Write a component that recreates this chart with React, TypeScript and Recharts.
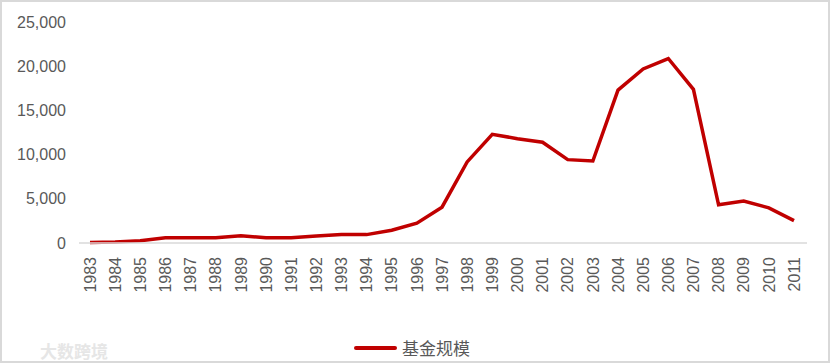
import React from "react";
import { LineChart, Line, XAxis, YAxis, Legend } from "recharts";

const years = [
  "1983","1984","1985","1986","1987","1988","1989","1990","1991","1992",
  "1993","1994","1995","1996","1997","1998","1999","2000","2001","2002",
  "2003","2004","2005","2006","2007","2008","2009","2010","2011",
];
const fundSize = [
  50, 100, 250, 600, 600, 600, 820, 600, 600, 800,
  950, 950, 1450, 2250, 4050, 9170, 12300, 11800, 11400, 9430,
  9280, 17300, 19690, 20870, 17380, 4320, 4740, 3980, 2530,
];
const yTicks = [0, 5000, 10000, 15000, 20000, 25000];
const seriesName = "基金规模";
const watermark = "大数跨境";

const data = years.map((y, i) => ({ year: y, value: fundSize[i] }));

const FONT = "'Liberation Sans', Arial, sans-serif";
const CJK = "'Noto Sans CJK SC', sans-serif";

const XTick = (props: any) => {
  const { x, y, payload } = props;
  return (
    <text
      x={x}
      y={y}
      transform={`rotate(-90, ${x}, ${y})`}
      textAnchor="end"
      dy="0.36em"
      fill="#595959"
      fontSize={16}
      fontFamily={FONT}
    >
      {payload.value}
    </text>
  );
};

const LegendContent = () => (
  <div style={{ position: "relative", width: 830, height: 30 }}>
    <div
      style={{
        position: "absolute",
        left: 354,
        top: 13,
        width: 43,
        height: 4,
        background: "#c00000",
        borderRadius: 2,
      }}
    />
    <span
      style={{
        position: "absolute",
        left: 402,
        top: 3,
        fontSize: 17,
        lineHeight: "24px",
        color: "#595959",
        fontFamily: CJK,
      }}
    >
      {seriesName}
    </span>
  </div>
);

export default function App() {
  return (
    <div
      style={{
        position: "absolute",
        left: 0,
        top: 0,
        width: 830,
        height: 363,
        boxSizing: "border-box",
        border: "2px solid #d9d9d9",
        background: "#fff",
        overflow: "hidden",
      }}
    >
      <div style={{ position: "absolute", left: -2, top: -2 }}>
        <LineChart
          width={830}
          height={363}
          data={data}
          margin={{ top: 22, right: 23, left: 0, bottom: 0 }}
        >
          <XAxis
            dataKey="year"
            interval={0}
            tickLine={false}
            axisLine={{ stroke: "#d9d9d9", strokeWidth: 1.5 }}
            tick={<XTick />}
            height={90}
            tickMargin={8}
            padding={{ left: 11, right: 13 }}
          />
          <YAxis
            width={79}
            domain={[0, 25000]}
            ticks={yTicks}
            tickLine={false}
            axisLine={false}
            tickMargin={7}
            tick={{ fill: "#595959", fontSize: 16, fontFamily: FONT }}
            tickFormatter={(v: number) => v.toLocaleString("en-US")}
          />
          <Legend
            verticalAlign="bottom"
            content={<LegendContent />}
            wrapperStyle={{ height: 30 }}
          />
          <Line
            type="linear"
            dataKey="value"
            name={seriesName}
            stroke="#c00000"
            strokeWidth={3.5}
            dot={false}
            isAnimationActive={false}
          />
        </LineChart>
      </div>
      <div
        style={{
          position: "absolute",
          left: 38,
          top: 336,
          fontSize: 17,
          color: "#e6e6e6",
          fontFamily: CJK,
          fontWeight: 700,
        }}
      >
        {watermark}
      </div>
    </div>
  );
}
